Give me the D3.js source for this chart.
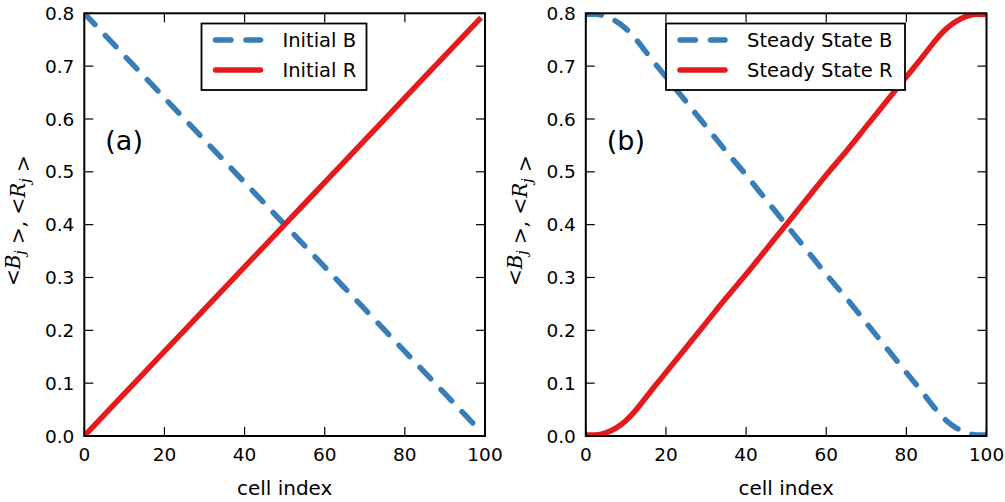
<!DOCTYPE html>
<html>
<head>
<meta charset="utf-8">
<script src="https://cdn.jsdelivr.net/npm/d3@7"></script>
<style>
  html, body { margin: 0; padding: 0; background: #fff; }
  svg { display: block; font-family: "DejaVu Sans", sans-serif; }
</style>
</head>
<body>
<svg id="chart" width="1005" height="502"></svg>
<script>
// cell indices
const initIdx = [0, 10, 20, 30, 40, 50, 60, 70, 80, 90, 99];
const initB = [0.8, 0.72, 0.64, 0.56, 0.48, 0.40, 0.32, 0.24, 0.16, 0.08, 0.008];
const initR = [0.0, 0.08, 0.16, 0.24, 0.32, 0.40, 0.48, 0.56, 0.64, 0.72, 0.792];

const steadyIdx = [0, 2.5, 5, 7.5, 10, 12.5, 15, 17.5, 20, 25, 30, 35, 40, 45, 50, 55, 60, 65, 70, 75, 80, 82.5, 85, 87.5, 90, 92.5, 95, 97.5, 100];
const steadyR = [0.002, 0.002, 0.006, 0.015, 0.029, 0.049, 0.073, 0.097, 0.12, 0.167, 0.214, 0.261, 0.306, 0.353, 0.40, 0.447, 0.494, 0.539, 0.586, 0.633, 0.68, 0.703, 0.727, 0.751, 0.771, 0.785, 0.794, 0.798, 0.798];
const steadyB = [0.798, 0.798, 0.794, 0.785, 0.771, 0.751, 0.727, 0.703, 0.68, 0.633, 0.586, 0.539, 0.494, 0.447, 0.40, 0.353, 0.306, 0.261, 0.214, 0.167, 0.12, 0.097, 0.073, 0.049, 0.029, 0.015, 0.006, 0.002, 0.002];

const xTicks = [0, 20, 40, 60, 80, 100];
const yTicks = [0.0, 0.1, 0.2, 0.3, 0.4, 0.5, 0.6, 0.7, 0.8];

const blue = '#377eb8';
const red = '#e41a1c';

const svg = d3.select('#chart');

function panel(opts) {
    const x = d3.scaleLinear().domain([0, 100]).range([opts.left, opts.left + 400.7]);
    const y = d3.scaleLinear().domain([0, 0.8]).range([436, 13.3]);
    const g = svg.append('g');

    g.append('clipPath').attr('id', opts.id + '-clip')
        .append('rect')
        .attr('x', x(0)).attr('y', y(0.8))
        .attr('width', x(100) - x(0)).attr('height', y(0) - y(0.8));

    const line = d3.line().x(d => x(d[0])).y(d => y(d[1])).curve(d3.curveMonotoneX);
    const plot = g.append('g').attr('clip-path', `url(#${opts.id}-clip)`);

    // B dashed, R solid
    plot.append('path')
        .datum(opts.idx.map((v, i) => [v, opts.B[i]]))
        .attr('fill', 'none').attr('stroke', blue).attr('stroke-width', 5.5)
        .attr('stroke-dasharray', '15.5,15').attr('stroke-linecap', 'round')
        .attr('d', line);
    plot.append('path')
        .datum(opts.idx.map((v, i) => [v, opts.R[i]]))
        .attr('fill', 'none').attr('stroke', red).attr('stroke-width', 5.5)
        .attr('d', line);

    // ticks pointing inward on all four sides
    const tl = 9;
    const tickStyle = s => s.attr('stroke', '#000').attr('stroke-width', 1.2);
    xTicks.forEach(t => {
        tickStyle(g.append('line').attr('x1', x(t)).attr('x2', x(t)).attr('y1', y(0)).attr('y2', y(0) - tl));
        tickStyle(g.append('line').attr('x1', x(t)).attr('x2', x(t)).attr('y1', y(0.8)).attr('y2', y(0.8) + tl));
        g.append('text').attr('x', x(t)).attr('y', 461)
            .attr('text-anchor', 'middle').attr('font-size', '18.5px').attr('fill', '#000')
            .text(t);
    });
    yTicks.forEach(t => {
        tickStyle(g.append('line').attr('x1', x(0)).attr('x2', x(0) + tl).attr('y1', y(t)).attr('y2', y(t)));
        tickStyle(g.append('line').attr('x1', x(100)).attr('x2', x(100) - tl).attr('y1', y(t)).attr('y2', y(t)));
        g.append('text').attr('x', x(0) - 10).attr('y', y(t)).attr('dy', '0.36em')
            .attr('text-anchor', 'end').attr('font-size', '18.5px').attr('fill', '#000')
            .text(d3.format('.1f')(t));
    });

    // frame
    g.append('rect')
        .attr('x', x(0)).attr('y', y(0.8))
        .attr('width', x(100) - x(0)).attr('height', y(0) - y(0.8))
        .attr('fill', 'none').attr('stroke', '#000').attr('stroke-width', 2);

    // x label
    g.append('text').attr('x', (x(0) + x(100)) / 2).attr('y', 495)
        .attr('text-anchor', 'middle').attr('font-size', '20px').attr('fill', '#000')
        .text('cell index');

    // y label: <B_j>, <R_j>
    const yl = g.append('text')
        .attr('transform', `translate(${opts.left - 64},${(y(0) + y(0.8)) / 2 - 4}) rotate(-90)`)
        .attr('text-anchor', 'middle')
        .attr('font-family', '"DejaVu Serif", serif').attr('font-size', '20px').attr('fill', '#000');
    const part = (txt, italic) => yl.append('tspan').attr('font-style', italic ? 'italic' : 'normal').text(txt);
    const sub = (txt) => {
        yl.append('tspan').attr('font-style', 'italic').attr('font-size', '14px').attr('dy', 5).text(txt);
        yl.append('tspan').attr('dy', -5).text('');
    };
    part('<', false); part('B', true); sub('j'); part(' >, <', false); part('R', true); sub('j'); part(' >', false);

    // panel tag
    g.append('text').attr('x', x(0) + 21).attr('y', 150)
        .attr('font-size', '27px').attr('fill', '#000').text(opts.tag);

    // legend
    const lg = g.append('g');
    lg.append('rect')
        .attr('x', opts.legX).attr('y', 23.5).attr('width', opts.legW).attr('height', 66.5)
        .attr('fill', '#fff').attr('stroke', '#000').attr('stroke-width', 1.8);
    const rows = [
        { label: opts.names[0], color: blue, dash: '15.5,15' },
        { label: opts.names[1], color: red, dash: null }
    ];
    rows.forEach((r, i) => {
        const cy = 40 + i * 30;
        const ln = lg.append('line')
            .attr('x1', opts.legX + 14).attr('x2', opts.legX + 59)
            .attr('y1', cy).attr('y2', cy)
            .attr('stroke', r.color).attr('stroke-width', 5.5).attr('stroke-linecap', 'round');
        if (r.dash) ln.attr('stroke-dasharray', r.dash);
        lg.append('text').attr('x', opts.legX + 81).attr('y', cy + 7)
            .attr('font-size', '19.5px').attr('fill', '#000').text(r.label);
    });
}

panel({ id: 'a', left: 84.3, tag: '(a)', idx: initIdx, B: initB, R: initR,
        legX: 201.5, legW: 165, names: ['Initial B', 'Initial R'] });
panel({ id: 'b', left: 585.8, tag: '(b)', idx: steadyIdx, B: steadyB, R: steadyR,
        legX: 666, legW: 239, names: ['Steady State B', 'Steady State R'] });
</script>
</body>
</html>
